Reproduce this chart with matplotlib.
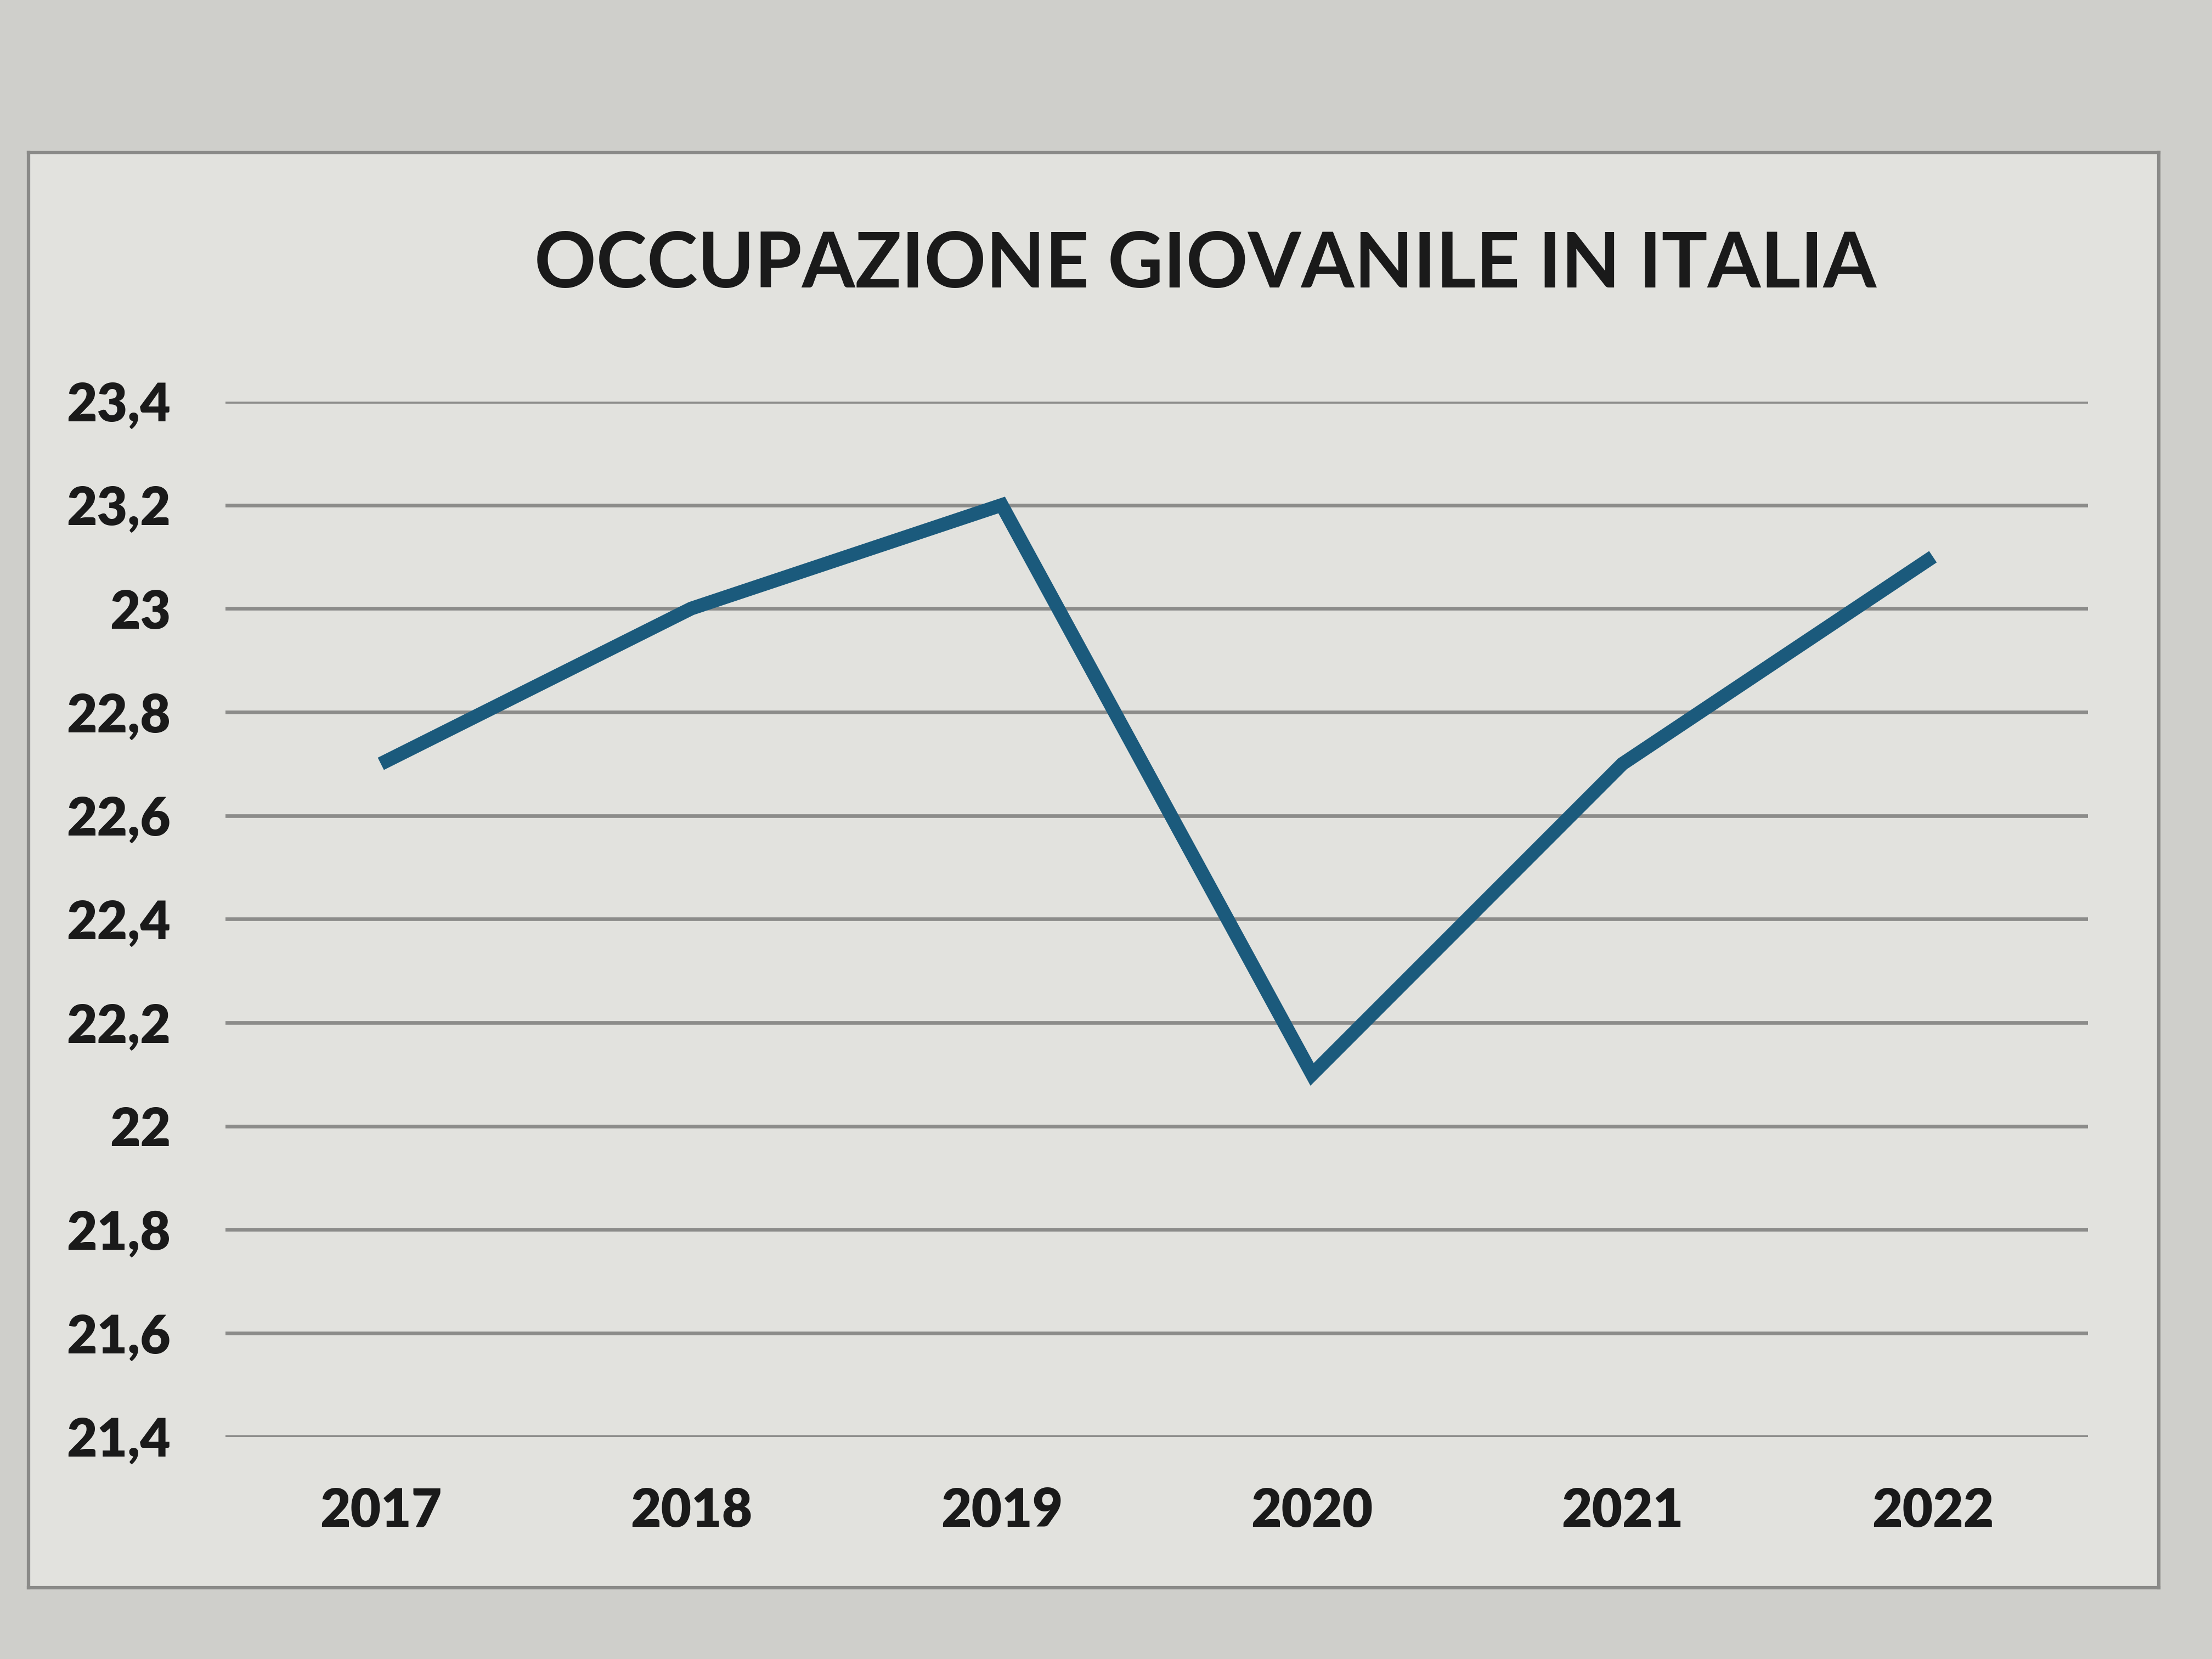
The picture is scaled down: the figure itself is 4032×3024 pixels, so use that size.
import matplotlib
matplotlib.use("Agg")
import matplotlib.pyplot as plt

years = ["2017", "2018", "2019", "2020", "2021", "2022"]
values = [22.7, 23.0, 23.2, 22.1, 22.7, 23.1]
yticks = [21.4, 21.6, 21.8, 22.0, 22.2, 22.4, 22.6, 22.8, 23.0, 23.2, 23.4]
ytick_labels = ["21,4", "21,6", "21,8", "22", "22,2", "22,4", "22,6", "22,8", "23", "23,2", "23,4"]
title = "OCCUPAZIONE GIOVANILE IN ITALIA"

plt.rcParams['font.family'] = ['Lato', 'DejaVu Sans']

fig = plt.figure(figsize=(13.44, 10.08), dpi=300)
fig.patch.set_facecolor("#cfcfcb")

bg = fig.add_axes([0.013, 0.043, 0.963, 0.865], zorder=-5)
bg.set_facecolor("#e2e2de")
bg.set_xticks([])
bg.set_yticks([])
for s in bg.spines.values():
    s.set_color("#8a8a88")
    s.set_linewidth(1.5)

ax = fig.add_axes([0.102, 0.134, 0.842, 0.624], zorder=1)
ax.set_facecolor("none")
x = list(range(len(years)))
ax.plot(x, values, color="#1b5a7c", linewidth=6, solid_joinstyle="miter",
        solid_capstyle="butt", zorder=3)
ax.set_xlim(-0.5, len(years) - 0.5)
ax.set_ylim(21.4, 23.4)
ax.set_yticks(yticks)
ax.set_yticklabels(ytick_labels)
ax.set_xticks(x)
ax.set_xticklabels(years)
ax.grid(axis="y", color="#8c8c8a", linewidth=1.6)
ax.set_axisbelow(True)
for s in ax.spines.values():
    s.set_visible(False)
ax.tick_params(axis="both", length=0, labelsize=23, colors="#1a1a1a")
ax.tick_params(axis="x", pad=22)
ax.tick_params(axis="y", pad=24)
for lbl in ax.get_xticklabels() + ax.get_yticklabels():
    lbl.set_fontweight("heavy")

fig.text(0.545, 0.84, title, ha="center", va="center", fontsize=33.5,
         fontweight="bold", color="#1a1a1a")

fig.savefig("out.png", dpi=300, facecolor=fig.get_facecolor())
